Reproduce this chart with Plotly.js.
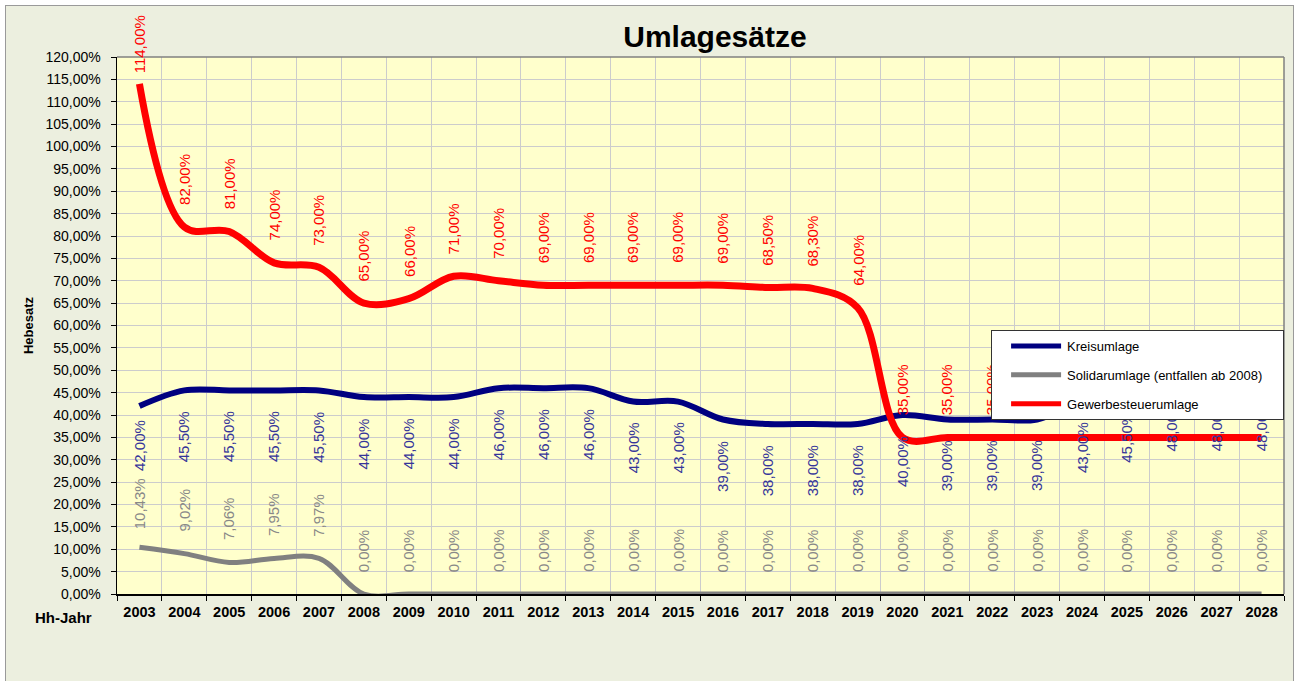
<!DOCTYPE html>
<html><head><meta charset="utf-8">
<script src="https://cdn.plot.ly/plotly-3.0.1.min.js"></script>
<style>
html,body{margin:0;padding:0;background:#ffffff;overflow:hidden;}
#chart{position:absolute;left:5px;top:5px;width:1287px;height:676px;border:1px solid #9a9a9a;}
</style></head><body>
<div id="chart"></div>
<script>
const years = ['2003','2004','2005','2006','2007','2008','2009','2010','2011','2012','2013','2014','2015','2016','2017','2018','2019','2020','2021','2022','2023','2024','2025','2026','2027','2028'];
const kreisumlage = [42,45.5,45.5,45.5,45.5,44,44,44,46,46,46,43,43,39,38,38,38,40,39,39,39,43,45.5,48,48,48];
const solidarumlage = [10.43,9.02,7.06,7.95,7.97,0,0,0,0,0,0,0,0,0,0,0,0,0,0,0,0,0,0,0,0,0];
const gewerbesteuerumlage = [114,82,81,74,73,65,66,71,70,69,69,69,69,69,68.5,68.3,64,35,35,35,35,35,35,35,35,35];
const gewerbeLabelCount = 20; // labels shown through 2022
const yTicks = [0,5,10,15,20,25,30,35,40,45,50,55,60,65,70,75,80,85,90,95,100,105,110,115,120];

function fmt(v){ return v.toFixed(2).replace('.', ',') + '%'; }

const traces = [
  {x: years, y: kreisumlage, name: 'Kreisumlage', type: 'scatter', mode: 'lines',
   line: {color: '#000080', width: 6, shape: 'spline', smoothing: 1}, legendgroup: 'a'},
  {x: years, y: solidarumlage, name: 'Solidarumlage (entfallen ab 2008)', type: 'scatter', mode: 'lines',
   line: {color: '#808080', width: 5, shape: 'spline', smoothing: 1}, legendgroup: 'b'},
  {x: years, y: gewerbesteuerumlage, name: 'Gewerbesteuerumlage', type: 'scatter', mode: 'lines',
   line: {color: '#ff0000', width: 7, shape: 'spline', smoothing: 1}, legendgroup: 'c'}
];

const annotations = [];
const labFont = {family: 'Arial, Liberation Sans, sans-serif', size: 15};
years.forEach((yr, i) => {
  const first = i === 0;
  annotations.push({x: i, y: kreisumlage[i], xref: 'x', yref: 'y', text: fmt(kreisumlage[i]), showarrow: false,
    textangle: -90, yanchor: 'top', xanchor: 'center', yshift: first ? -12 : -19, font: Object.assign({color: '#35359a'}, labFont)});
  annotations.push({x: i, y: solidarumlage[i], xref: 'x', yref: 'y', text: fmt(solidarumlage[i]), showarrow: false,
    textangle: -90, yanchor: 'bottom', xanchor: 'center', yshift: first ? 16 : 20, font: Object.assign({color: '#888888'}, labFont)});
  if (i < gewerbeLabelCount) {
    const v = gewerbesteuerumlage[i];
    annotations.push({x: i, y: v, xref: 'x', yref: 'y', text: fmt(v), showarrow: false,
      textangle: -90, yanchor: 'bottom', xanchor: 'center', yshift: v > 110 ? 9 : 20, font: Object.assign({color: '#ff0000'}, labFont)});
  }
});
annotations.push({x: -0.046, y: -0.043, xref: 'paper', yref: 'paper', text: '<b>Hh-Jahr</b>', showarrow: false,
  xanchor: 'center', yanchor: 'middle', font: {family: 'Arial, Liberation Sans, sans-serif', size: 15, color: '#000'}});

const layout = {
  width: 1287, height: 676,
  margin: {l: 111, r: 9, t: 51, b: 88},
  paper_bgcolor: '#ecefdf',
  plot_bgcolor: '#ffffcc',
  font: {family: 'Arial, Liberation Sans, sans-serif', color: '#000'},
  title: {text: '<b>Umlagesätze</b>', font: {size: 30, color: '#000'}, x: 0.5124, xref: 'paper', xanchor: 'center',
    y: 0.9556, yref: 'container', yanchor: 'middle'},
  separators: ',.',
  xaxis: {type: 'category', range: [-0.5, 25.5], tickson: 'boundaries', ticks: 'outside', ticklen: 5, tickcolor: '#000',
    showgrid: true, gridcolor: '#cccccc', gridwidth: 1, showline: true, linecolor: '#000', linewidth: 1.5,
    ticklabelstandoff: 4,
    tickfont: {size: 14.5, color: '#000', weight: 'bold'}, fixedrange: true},
  yaxis: {range: [0, 120], tickvals: yTicks, ticktext: yTicks.map(v => fmt(v)), ticks: 'outside', ticklen: 5, tickcolor: '#000',
    showgrid: true, gridcolor: '#cccccc', gridwidth: 1, zeroline: false, showline: true, linecolor: '#000', linewidth: 1.5,
    ticklabelstandoff: 7,
    tickfont: {size: 14, color: '#000'},
    title: {text: '<b>Hebesatz</b>', font: {size: 13, color: '#000'}, standoff: 9}},
  showlegend: true,
  legend: {x: 0.749, y: 0.4916, xanchor: 'left', yanchor: 'top', bgcolor: '#ffffff', bordercolor: '#333333', borderwidth: 1,
    font: {size: 13, color: '#000'}, tracegroupgap: 9, itemwidth: 65},
  shapes: [
    {type: 'line', xref: 'paper', yref: 'paper', x0: 0, x1: 1, y0: 1, y1: 1, line: {color: '#808080', width: 1.5}},
    {type: 'line', xref: 'paper', yref: 'paper', x0: 1, x1: 1, y0: 0, y1: 1, line: {color: '#808080', width: 1.5}}
  ],
  annotations: annotations
};

Plotly.newPlot('chart', traces, layout, {displayModeBar: false, staticPlot: true}).then(gd => {
  // keep the legend box above the data labels, as in the original chart
  const info = gd.querySelector('.infolayer');
  const leg = info && info.querySelector('g.legend');
  if (leg) {
    info.appendChild(leg);
    const bg = leg.querySelector('rect.bg');
    if (bg) bg.setAttribute('width', String(parseFloat(bg.getAttribute('width')) + 15));
    leg.querySelectorAll('.legendlines path').forEach(p => {
      p.setAttribute('d', 'M19,0h50');
      p.style.strokeWidth = '5px';
    });
  }
});
</script>
</body></html>
